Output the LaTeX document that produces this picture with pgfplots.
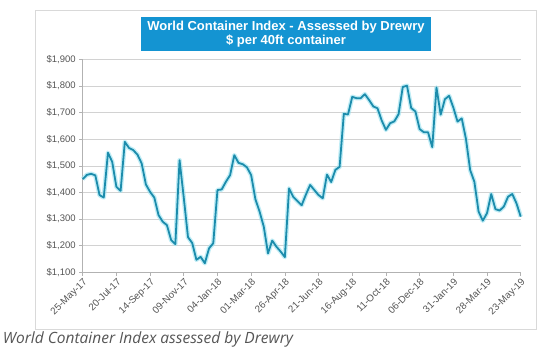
\documentclass[border=0pt]{standalone}
\usepackage{fontspec}
\setmainfont{Liberation Sans}
\newfontfamily\capfont{Open Sans}
\newfontfamily\titlefont{Liberation Sans Bold}
\usepackage{pgfplots}
\pgfplotsset{compat=1.18}
\definecolor{titleblue}{RGB}{20,148,210}
\definecolor{linecol}{RGB}{28,140,172}
\definecolor{glowcol}{RGB}{150,225,240}
\definecolor{labgray}{RGB}{85,85,85}
\begin{document}
\begin{tikzpicture}
\fill[white] (-82.7pt,-79.7pt) rectangle (473.3pt,272.3pt);
\draw[gray!30, line width=0.8pt] (-47pt,-56.7pt) rectangle (454pt,262.3pt);
\begin{axis}[
  at={(0pt,0pt)}, anchor=south west,
  scale only axis, width=438pt, height=213pt,
  xmin=0, xmax=104, ymin=1100, ymax=1900,
  xtick={0,8,...,104},
  xticklabels={25-May-17,20-Jul-17,14-Sep-17,09-Nov-17,04-Jan-18,01-Mar-18,26-Apr-18,21-Jun-18,16-Aug-18,11-Oct-18,06-Dec-18,31-Jan-19,28-Mar-19,23-May-19},
  ytick={1100,1200,...,1900},
  yticklabels={{\$1,100},{\$1,200},{\$1,300},{\$1,400},{\$1,500},{\$1,600},{\$1,700},{\$1,800},{\$1,900}},
  axis x line*=bottom, axis y line*=left,
  ymajorgrids, grid style={draw=gray!35, line width=0.6pt},
  axis line style={draw=gray!60, line width=0.6pt},
  tick style={draw=gray!60, line width=0.6pt},
  major tick length=3.5pt, tick align=outside,
  x tick label style={rotate=45, anchor=north east, font=\fontsize{9.8}{11}\selectfont, text=labgray, inner sep=1pt},
  y tick label style={font=\fontsize{9.5}{11}\selectfont, text=labgray},
  clip=false,
]
\addplot[draw=glowcol, line width=4.5pt, opacity=0.6, line join=round] table {
x y
0 1450
1 1466
2 1470
3 1464
4 1390
5 1381
6 1549
7 1515
8 1421
9 1406
10 1590
11 1567
12 1559
13 1542
14 1509
15 1430
16 1402
17 1381
18 1315
19 1290
20 1277
21 1221
22 1206
23 1521
24 1380
25 1232
26 1210
27 1147
28 1158
29 1134
30 1190
31 1209
32 1409
33 1411
34 1440
35 1465
36 1540
37 1511
38 1506
39 1494
40 1465
41 1375
42 1328
43 1271
44 1171
45 1219
46 1196
47 1178
48 1157
49 1415
50 1383
51 1367
52 1352
53 1392
54 1428
55 1409
56 1390
57 1378
58 1467
59 1439
60 1485
61 1496
62 1695
63 1693
64 1759
65 1754
66 1754
67 1769
68 1747
69 1723
70 1716
71 1670
72 1635
73 1660
74 1667
75 1694
76 1796
77 1801
78 1717
79 1704
80 1638
81 1626
82 1626
83 1570
84 1794
85 1692
86 1750
87 1763
88 1719
89 1666
90 1678
91 1601
92 1484
93 1440
94 1328
95 1294
96 1322
97 1394
98 1337
99 1332
100 1347
101 1384
102 1394
103 1359
104 1309
};
\addplot[draw=linecol, line width=1.8pt, line join=round] table {
x y
0 1450
1 1466
2 1470
3 1464
4 1390
5 1381
6 1549
7 1515
8 1421
9 1406
10 1590
11 1567
12 1559
13 1542
14 1509
15 1430
16 1402
17 1381
18 1315
19 1290
20 1277
21 1221
22 1206
23 1521
24 1380
25 1232
26 1210
27 1147
28 1158
29 1134
30 1190
31 1209
32 1409
33 1411
34 1440
35 1465
36 1540
37 1511
38 1506
39 1494
40 1465
41 1375
42 1328
43 1271
44 1171
45 1219
46 1196
47 1178
48 1157
49 1415
50 1383
51 1367
52 1352
53 1392
54 1428
55 1409
56 1390
57 1378
58 1467
59 1439
60 1485
61 1496
62 1695
63 1693
64 1759
65 1754
66 1754
67 1769
68 1747
69 1723
70 1716
71 1670
72 1635
73 1660
74 1667
75 1694
76 1796
77 1801
78 1717
79 1704
80 1638
81 1626
82 1626
83 1570
84 1794
85 1692
86 1750
87 1763
88 1719
89 1666
90 1678
91 1601
92 1484
93 1440
94 1328
95 1294
96 1322
97 1394
98 1337
99 1332
100 1347
101 1384
102 1394
103 1359
104 1309
};
\end{axis}
\node[fill=titleblue, text=white, font=\titlefont\fontsize{13}{14.5}\selectfont, align=center, minimum width=290pt, minimum height=34pt, inner sep=0pt] at (203.3pt,238.3pt) {World Container Index - Assessed by Drewry\\\$ per 40ft container};
\node[anchor=west, text=labgray, font=\capfont\itshape\fontsize{15.5}{17}\selectfont, inner sep=0pt] at (-80pt,-67pt) {World Container Index assessed by Drewry};
\pgfresetboundingbox
\path[use as bounding box] (-82.7pt,-79.7pt) rectangle (473.3pt,272.3pt);
\end{tikzpicture}
\end{document}
